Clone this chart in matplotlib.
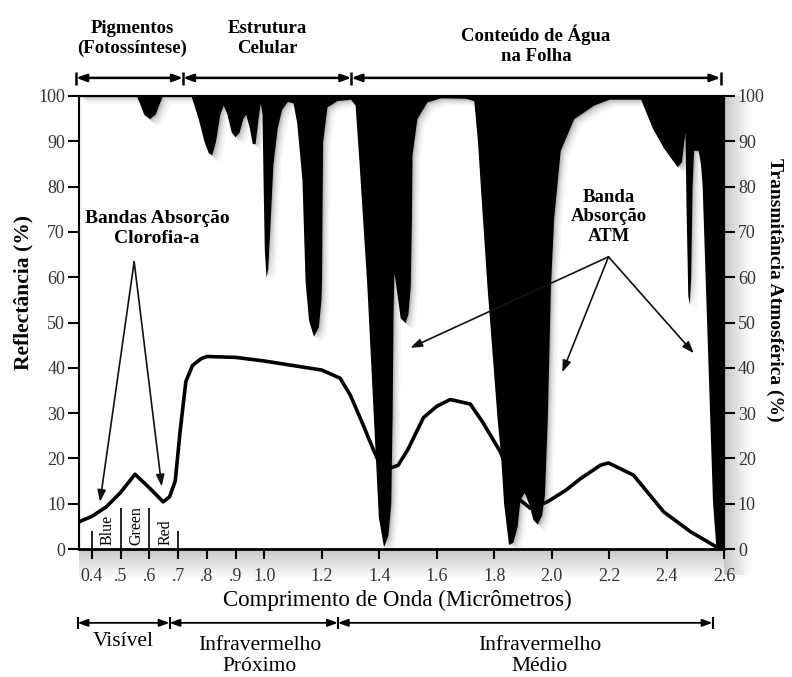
import matplotlib
matplotlib.use("Agg")
import matplotlib.pyplot as plt
import numpy as np

plt.rcParams['font.family'] = ['Liberation Serif', 'DejaVu Serif']

# Reflectância da folha (%)
refl_x = [0.355, 0.40, 0.45, 0.50, 0.55, 0.60, 0.648, 0.67, 0.69, 0.707, 0.727,
          0.75, 0.78, 0.80, 0.90, 1.00, 1.10, 1.20, 1.264, 1.299, 1.34, 1.379,
          1.393, 1.41, 1.445, 1.466, 1.50, 1.554, 1.60, 1.647, 1.717, 1.76,
          1.822, 1.86, 1.89, 1.926, 1.985, 2.05, 2.10, 2.17, 2.198, 2.285,
          2.39, 2.484, 2.578]
refl_y = [6.0, 7.2, 9.3, 12.5, 16.5, 13.5, 10.4, 11.5, 15, 26, 37,
          40.5, 42, 42.5, 42.3, 41.5, 40.5, 39.5, 37.7, 34, 28, 22,
          20, 18.5, 18, 18.5, 22, 29, 31.5, 33, 32, 28,
          21.4, 15, 10.8, 9, 10.4, 13, 15.5, 18.5, 19, 16.3,
          8.2, 3.8, 0.3]

# Transmitância atmosférica (%)
trans_x = [0.355, 0.555, 0.565, 0.58, 0.60, 0.62, 0.635, 0.645, 0.745, 0.755,
           0.77, 0.79, 0.805, 0.817, 0.83, 0.845, 0.857, 0.87, 0.885, 0.898,
           0.912, 0.925, 0.935, 0.948, 0.958, 0.968, 0.978, 0.986, 0.992, 0.996,
           1.000, 1.006, 1.012, 1.02, 1.03, 1.045, 1.06, 1.08, 1.10, 1.113,
           1.131, 1.142, 1.154, 1.171, 1.188, 1.197, 1.199, 1.201, 1.203, 1.218,
           1.253, 1.30, 1.316, 1.33, 1.357, 1.386, 1.397, 1.415, 1.43, 1.44,
           1.445, 1.448, 1.451, 1.456, 1.473, 1.49, 1.50, 1.508, 1.512, 1.514,
           1.531, 1.566, 1.613, 1.70, 1.729, 1.742, 1.752, 1.775, 1.81, 1.822,
           1.833, 1.85, 1.865, 1.88, 1.89, 1.905, 1.92, 1.935, 1.95, 1.965,
           1.975, 1.985, 1.996, 2.007, 2.03, 2.077, 2.147, 2.20, 2.31, 2.35,
           2.39, 2.437, 2.452, 2.46, 2.464, 2.468, 2.474, 2.479, 2.484, 2.489,
           2.494, 2.51, 2.518, 2.524, 2.56, 2.571, 2.58, 2.60]
trans_y = [100, 100, 98.5, 96, 95, 96, 98.5, 100, 100, 98,
           95, 90, 87.5, 87, 90, 96, 98, 96, 92, 91,
           92, 95, 96, 93, 89.5, 89.5, 95, 98.5, 96, 80,
           66, 60, 62, 72, 85, 93, 97, 98.8, 98.5, 94,
           81.5, 59, 50.5, 47, 49, 55, 59, 75, 90, 97.6,
           99, 99.3, 98, 85, 58, 21, 7, 0.5, 3, 10,
           30, 52, 61, 59, 51, 50, 52, 58, 73, 87,
           95, 98.7, 99.6, 99.5, 99, 90, 80, 58, 29, 21,
           10, 1, 1.5, 5, 11, 12.5, 10, 6.5, 5.5, 7.5,
           12, 29, 58, 73, 88, 95, 98, 99.3, 99.3, 93,
           88.5, 84.4, 85.5, 90, 92, 75, 56, 54, 60, 80,
           88, 88, 85, 80, 10.4, 1, 0, 0]

xticks = [0.4, 0.5, 0.6, 0.7, 0.8, 0.9, 1.0, 1.2, 1.4, 1.6, 1.8, 2.0, 2.2, 2.4, 2.6]
xtick_labels = ['0.4', '.5', '.6', '.7', '.8', '.9', '1.0', '1.2', '1.4', '1.6',
                '1.8', '2.0', '2.2', '2.4', '2.6']
yticks = list(range(0, 101, 10))

# faixas (rótulos e limites em micrômetros)
top_bounds = [0.345, 0.717, 1.303, 2.588]
top_labels = ['Pigmentos\n(Fotossíntese)', 'Estrutura\nCelular', 'Conteúdo de Água\nna Folha']
bot_bounds = [0.35, 0.67, 1.256, 2.56]
bot_labels = ['Visível', 'Infravermelho\nPróximo', 'Infravermelho\nMédio']
color_bounds = [0.4, 0.5, 0.6, 0.7]
color_labels = ['Blue', 'Green', 'Red']

fig = plt.figure(figsize=(7.92, 6.77), dpi=100)

# sombra cinza sob o eixo x e à direita do gráfico
sh = fig.add_axes([79 / 792, 1 - 580 / 677, (745 - 79) / 792, (580 - 549) / 677], zorder=0)
grad = np.linspace(0.78, 1.0, 30)[:, None] * np.ones((1, 10))
sh.imshow(grad, cmap='gray', vmin=0, vmax=1, aspect='auto', extent=[0, 1, 0, 1])
sh.axis('off')
sh2 = fig.add_axes([724 / 792, 1 - 575 / 677, (752 - 724) / 792, (575 - 96) / 677], zorder=0)
grad2 = np.linspace(0.78, 1.0, 30)[None, :] * np.ones((10, 1))
sh2.imshow(grad2, cmap='gray', vmin=0, vmax=1, aspect='auto', extent=[0, 1, 0, 1])
sh2.axis('off')

ax = fig.add_axes([79 / 792, 1 - 549 / 677, (724 - 79) / 792, (549 - 96) / 677], zorder=2)
ax.set_xlim(0.355, 2.6)
ax.set_ylim(0, 100)

# sombra suave das bandas de absorção
for off, a in [(0.003, 0.16), (0.007, 0.12), (0.012, 0.09), (0.018, 0.07), (0.026, 0.05)]:
    ax.fill_between([x + off for x in trans_x], [y - off * 60 for y in trans_y], 100,
                    color='#444444', alpha=a, lw=0, zorder=1)
ax.fill_between(trans_x, trans_y, 100, color='black', lw=0, zorder=2)
ax.plot(refl_x, refl_y, color='black', lw=2.6, zorder=3, solid_capstyle='round')

for s in ['left', 'top', 'right']:
    ax.spines[s].set_linewidth(1.5)
ax.spines['bottom'].set_linewidth(2)

ax.set_xticks(xticks)
ax.set_xticklabels(xtick_labels)
ax.set_yticks(yticks)
ax.tick_params(axis='x', direction='out', length=7, width=1.5, pad=7,
               labelsize=13, labelcolor='#333333')
ax.tick_params(axis='y', direction='out', length=8, width=1.5, pad=2,
               labelsize=13, labelcolor='#333333')

ax2 = ax.twinx()
ax2.set_ylim(0, 100)
ax2.set_yticks(yticks)
ax2.tick_params(axis='y', direction='out', length=8, width=1.5, pad=2,
                labelsize=13, labelcolor='#333333')
ax2.spines['right'].set_linewidth(1.5)

fig.text(23 / 792, 1 - 292 / 677, 'Reflectância (%)', rotation=90, ha='center',
         va='center', fontsize=15.5, fontweight='bold')
fig.text(775 / 792, 1 - 290 / 677, 'Transmitância Atmosférica (%)', rotation=-90,
         ha='center', va='center', fontsize=14, fontweight='bold')

# divisões do visível
ax.vlines(color_bounds[1:3], 0, 9, color='black', lw=1.2, zorder=4)
ax.vlines([color_bounds[0], color_bounds[3]], -1.5, 4, color='black', lw=1.2,
          zorder=4, clip_on=False)
for i, lab in enumerate(color_labels):
    xm = (color_bounds[i] + color_bounds[i + 1]) / 2
    ax.text(xm + 0.005, 0.8, lab, rotation=90, ha='center', va='bottom',
            fontsize=11.5, zorder=5)

# faixas superiores
for i, lab in enumerate(top_labels):
    x0, x1 = top_bounds[i], top_bounds[i + 1]
    ax.annotate('', xy=(x1, 104), xytext=(x0, 104), annotation_clip=False,
                arrowprops=dict(arrowstyle='<|-|>,head_length=0.6,head_width=0.22',
                                color='black', lw=1.8, shrinkA=0, shrinkB=0))
    yc = 111.3 if i == 2 else 112.7
    ax.text((x0 + x1) / 2 + (0.01 if i == 0 else 0), yc, lab, ha='center',
            va='center', fontsize=13.5, fontweight='bold', linespacing=1.2,
            clip_on=False)
ax.vlines(top_bounds, 102.4, 105.2, color='black', lw=1.8, clip_on=False)

# faixas inferiores
for i, lab in enumerate(bot_labels):
    x0, x1 = bot_bounds[i], bot_bounds[i + 1]
    ax.annotate('', xy=(x1, -16.3), xytext=(x0, -16.3), annotation_clip=False,
                arrowprops=dict(arrowstyle='<|-|>,head_length=0.6,head_width=0.22',
                                color='black', lw=1.3, shrinkA=0, shrinkB=0))
    if i == 0:
        ax.text((x0 + x1) / 2, -20.5, lab, ha='center', va='center', fontsize=15.5,
                clip_on=False)
    else:
        ax.text((x0 + x1) / 2 + (0.02 if i == 1 else 0.05), -23.6, lab,
                ha='center', va='center', fontsize=15.5, linespacing=1.2,
                clip_on=False)
ax.vlines(bot_bounds, -15, -17.7, color='black', lw=1.5, clip_on=False)

ax.text(1.463, -11.3, 'Comprimento de Onda (Micrômetros)', ha='center',
        va='center', fontsize=16.5, clip_on=False)

# setas das bandas de absorção
arrow_kw = dict(arrowstyle='-|>,head_length=0.7,head_width=0.25', color='#111111',
                lw=1.2, shrinkA=0, shrinkB=0)
ax.text(0.627, 70.7, 'Bandas Absorção\nClorofia-a', ha='center', va='center',
        fontsize=14, fontweight='bold', linespacing=1.2, zorder=6)
for tip in [(0.428, 10.4), (0.643, 13.8)]:
    ax.annotate('', xy=tip, xytext=(0.547, 63.4), arrowprops=arrow_kw, zorder=6)

ax.text(2.198, 73.3, 'Banda\nAbsorção\nATM', ha='center', va='center',
        fontsize=13.5, fontweight='bold', linespacing=1.2, zorder=6)
for tip in [(1.508, 44.4), (2.037, 39.0), (2.495, 43.2)]:
    ax.annotate('', xy=tip, xytext=(2.198, 64.5), arrowprops=arrow_kw, zorder=6)

fig.savefig('out.png', dpi=100)
